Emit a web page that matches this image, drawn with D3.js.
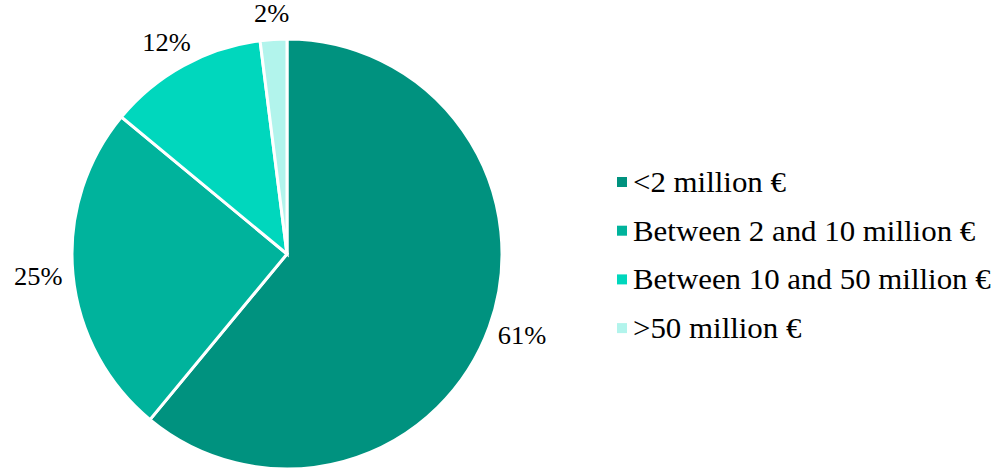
<!DOCTYPE html>
<html>
<head>
<meta charset="utf-8">
<script src="https://cdn.jsdelivr.net/npm/d3@7"></script>
<style>
  body { margin: 0; background: #fff; }
  text { font-family: "Liberation Serif", "Times New Roman", serif; fill: #000; }
</style>
</head>
<body>
<svg id="chart" width="1003" height="468"></svg>
<script>
var categories = ["<2 million €", "Between 2 and 10 million €", "Between 10 and 50 million €", ">50 million €"]
var values = [61, 25, 12, 2]
var colors = ["#00927f", "#00b39c", "#00d7bd", "#b2f4ec"]

var width = 1003, height = 468
var cx = 287, cy = 254, r = 215

var svg = d3.select("#chart")

var color = d3.scaleOrdinal().domain(categories).range(colors)

var data = categories.map(function(c, i){ return {cat: c, value: values[i]} })

var pie = d3.pie().sort(null).value(d => d.value)
var arc = d3.arc().innerRadius(0).outerRadius(r)
var arcs = pie(data)

var g = svg.append("g").attr("transform", "translate(" + cx + "," + cy + ")")

g.selectAll("path")
  .data(arcs)
  .join("path")
  .attr("d", arc)
  .attr("fill", d => color(d.data.cat))
  .attr("stroke", "#fff")
  .attr("stroke-width", 3)
  .attr("stroke-linejoin", "miter")

// outside-end labels: box sits just beyond the rim, pushed outward
var total = d3.sum(values)
var gap = 12
g.selectAll("text.lbl")
  .data(arcs)
  .join("text")
  .attr("class", "lbl")
  .attr("font-size", 25)
  .attr("text-anchor", "middle")
  .attr("dominant-baseline", "central")
  .text(d => Math.round(d.data.value / total * 100) + "%")
  .each(function(d){
      var a = (d.startAngle + d.endAngle) / 2
      var sx = Math.sin(a), sy = -Math.cos(a)
      var bb = this.getBBox()
      var px = sx * (r + gap) + sx * bb.width / 2
      var py = sy * (r + gap) + sy * bb.height / 2
      d3.select(this).attr("transform", "translate(" + px + "," + py + ") scale(1.06,1)")
  })

// legend
var legend = svg.append("g").attr("transform", "translate(617,182)")
var row = legend.selectAll("g")
  .data(categories)
  .join("g")
  .attr("transform", (d, i) => "translate(0," + (i * 48.7) + ")")

row.append("rect")
  .attr("x", 0).attr("y", -5)
  .attr("width", 10).attr("height", 10)
  .attr("fill", d => color(d))

row.append("text")
  .attr("transform", "translate(16,0) scale(1.03,1)")
  .attr("dominant-baseline", "central")
  .attr("font-size", 30)
  .text(d => d)
</script>
</body>
</html>
